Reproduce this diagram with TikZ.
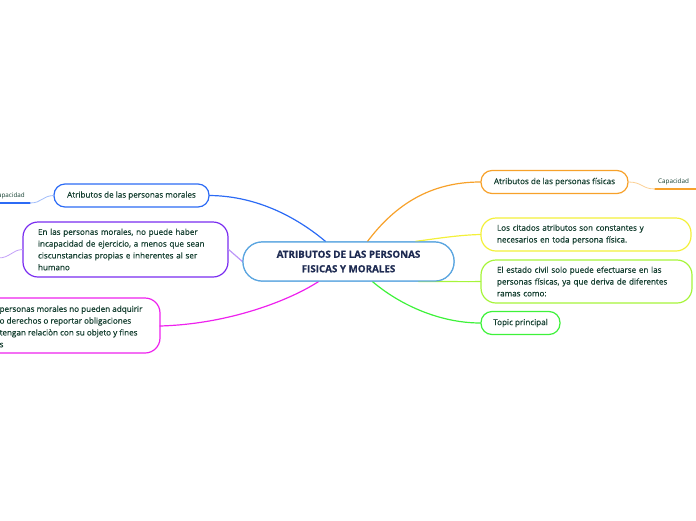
\documentclass[tikz,border=0pt]{standalone}
\usepackage{fontspec}
\setmainfont{Open Sans}[FakeBold=0.4]
\newfontfamily\thinfont{Open Sans}
\usetikzlibrary{calc}
\definecolor{bg}{HTML}{FFFFFF}
\definecolor{ink}{HTML}{123D2E}
\definecolor{navy}{HTML}{1E2B52}
\definecolor{skyb}{HTML}{5AA5E0}
\definecolor{blueb}{HTML}{2C6BF5}
\definecolor{purpb}{HTML}{7A2DF0}
\definecolor{magb}{HTML}{EE22EE}
\definecolor{orab}{HTML}{F7A12A}
\definecolor{yelb}{HTML}{F3F03A}
\definecolor{limb}{HTML}{A6F53A}
\definecolor{grnb}{HTML}{3EF23A}
\tikzset{
  box/.style={draw, fill=bg, line width=1.2pt, text=ink, inner sep=0pt,
    font=\fontsize{8.1}{11.8}\selectfont},
  pill/.style={box, rounded corners=11pt, minimum height=23pt},
  blob/.style={box, rounded corners=15pt, align=left},
  mainbox/.style={draw=skyb, fill=bg, line width=1.2pt, rounded corners=19pt, text=navy,
    inner sep=0pt, align=center, font=\fontsize{9.8}{14.5}\selectfont\bfseries},
  lnk/.style={line width=1.2pt, line cap=round},
  thin/.style={line width=0.8pt, line cap=round},
  tiny/.style={text=ink, inner sep=0pt, font=\thinfont\fontsize{6.3}{7}\selectfont},
}
\begin{document}
\begin{tikzpicture}[x=1pt,y=-1pt]
  \useasboundingbox (0,0) rectangle (696,520);
  \clip (0,0) rectangle (696,520);
  % nodes
  \node[mainbox, minimum width=211pt, minimum height=39pt] (center) at (348.5,261.5)
    {ATRIBUTOS DE LAS PERSONAS\\FISICAS Y MORALES};
  \node[pill, draw=blueb, minimum width=155pt] (morales) at (131.5,195.5)
    {Atributos de las personas morales};
  \node[blob, draw=purpb, minimum width=205pt, minimum height=55pt, text width=175pt] (incap) at (125.5,249.5)
    {En las personas morales, no puede haber\\incapacidad de ejercicio, a menos que sean\\ciscunstancias propias e inherentes al ser\\humano};
  \draw[magb, fill=bg, line width=1.2pt, rounded corners=15pt] (-60,298) rectangle (160,353);
  \node[box, draw=none, fill=none, anchor=west, align=left] (objeto) at (-1,326.5)
    {personas morales no pueden adquirir\\o derechos o reportar obligaciones\\tengan relaciòn con su objeto y fines\\s};
  \coordinate (objeto-e) at (160,326);
  \node[pill, draw=orab, minimum width=147pt] (fisicas) at (554.5,182)
    {Atributos de las personas físicas};
  \node[blob, draw=yelb, minimum width=210pt, minimum height=33pt, text width=178pt] (const) at (586,234.5)
    {Los citados atributos son constantes y\\necesarios en toda persona física.};
  \node[blob, draw=limb, minimum width=211pt, minimum height=43pt, text width=179pt] (estado) at (586.5,281.5)
    {El estado civil solo puede efectuarse en las\\personas físicas, ya que deriva de diferentes\\ramas como:};
  \node[pill, draw=grnb, minimum width=79pt] (topic) at (520.5,323)
    {Topic principal};
  \node[tiny, anchor=east] (capizq) at (25,196) {Capacidad};
  \node[tiny, anchor=west] (capder) at (658,182) {Capacidad};
  % connectors
  \draw[lnk, blueb] ([xshift=-23pt]center.north) .. controls (300,220) and (260,196) .. (morales.east);
  \draw[lnk, purpb!50] (center.west) -- (incap.east);
  \draw[lnk, magb] ([xshift=-30pt]center.south) .. controls (290,300) and (230,324) .. (objeto-e);
  \draw[lnk, orab] ([xshift=19pt]center.north) .. controls (395,205) and (430,182) .. (fisicas.west);
  \draw[lnk, yelb] ([xshift=67pt]center.north) .. controls (440,238) and (460,235) .. (const.west);
  \draw[lnk, limb] ([xshift=70pt]center.south) .. controls (440,281) and (460,282) .. (estado.west);
  \draw[lnk, grnb] ([xshift=24pt]center.south) .. controls (400,305) and (440,323) .. (topic.west);
  % small branches
  \draw[thin, blueb!45] (morales.west) .. controls (42,196) and (42,203) .. (30,203);
  \draw[lnk, blueb] (30,203) -- (-2,203);
  \draw[thin, purpb!45] (incap.west) .. controls (12,250) and (10,258) .. (-2,258);
  \draw[thin, orab!50] (fisicas.east) .. controls (642,182) and (642,189) .. (655,189);
  \draw[lnk, orab] (655,189) -- (698,189);
  % redraw box borders over link ends
  \node[mainbox, minimum width=211pt, minimum height=39pt] at (center)
    {ATRIBUTOS DE LAS PERSONAS\\FISICAS Y MORALES};
\end{tikzpicture}
\end{document}
